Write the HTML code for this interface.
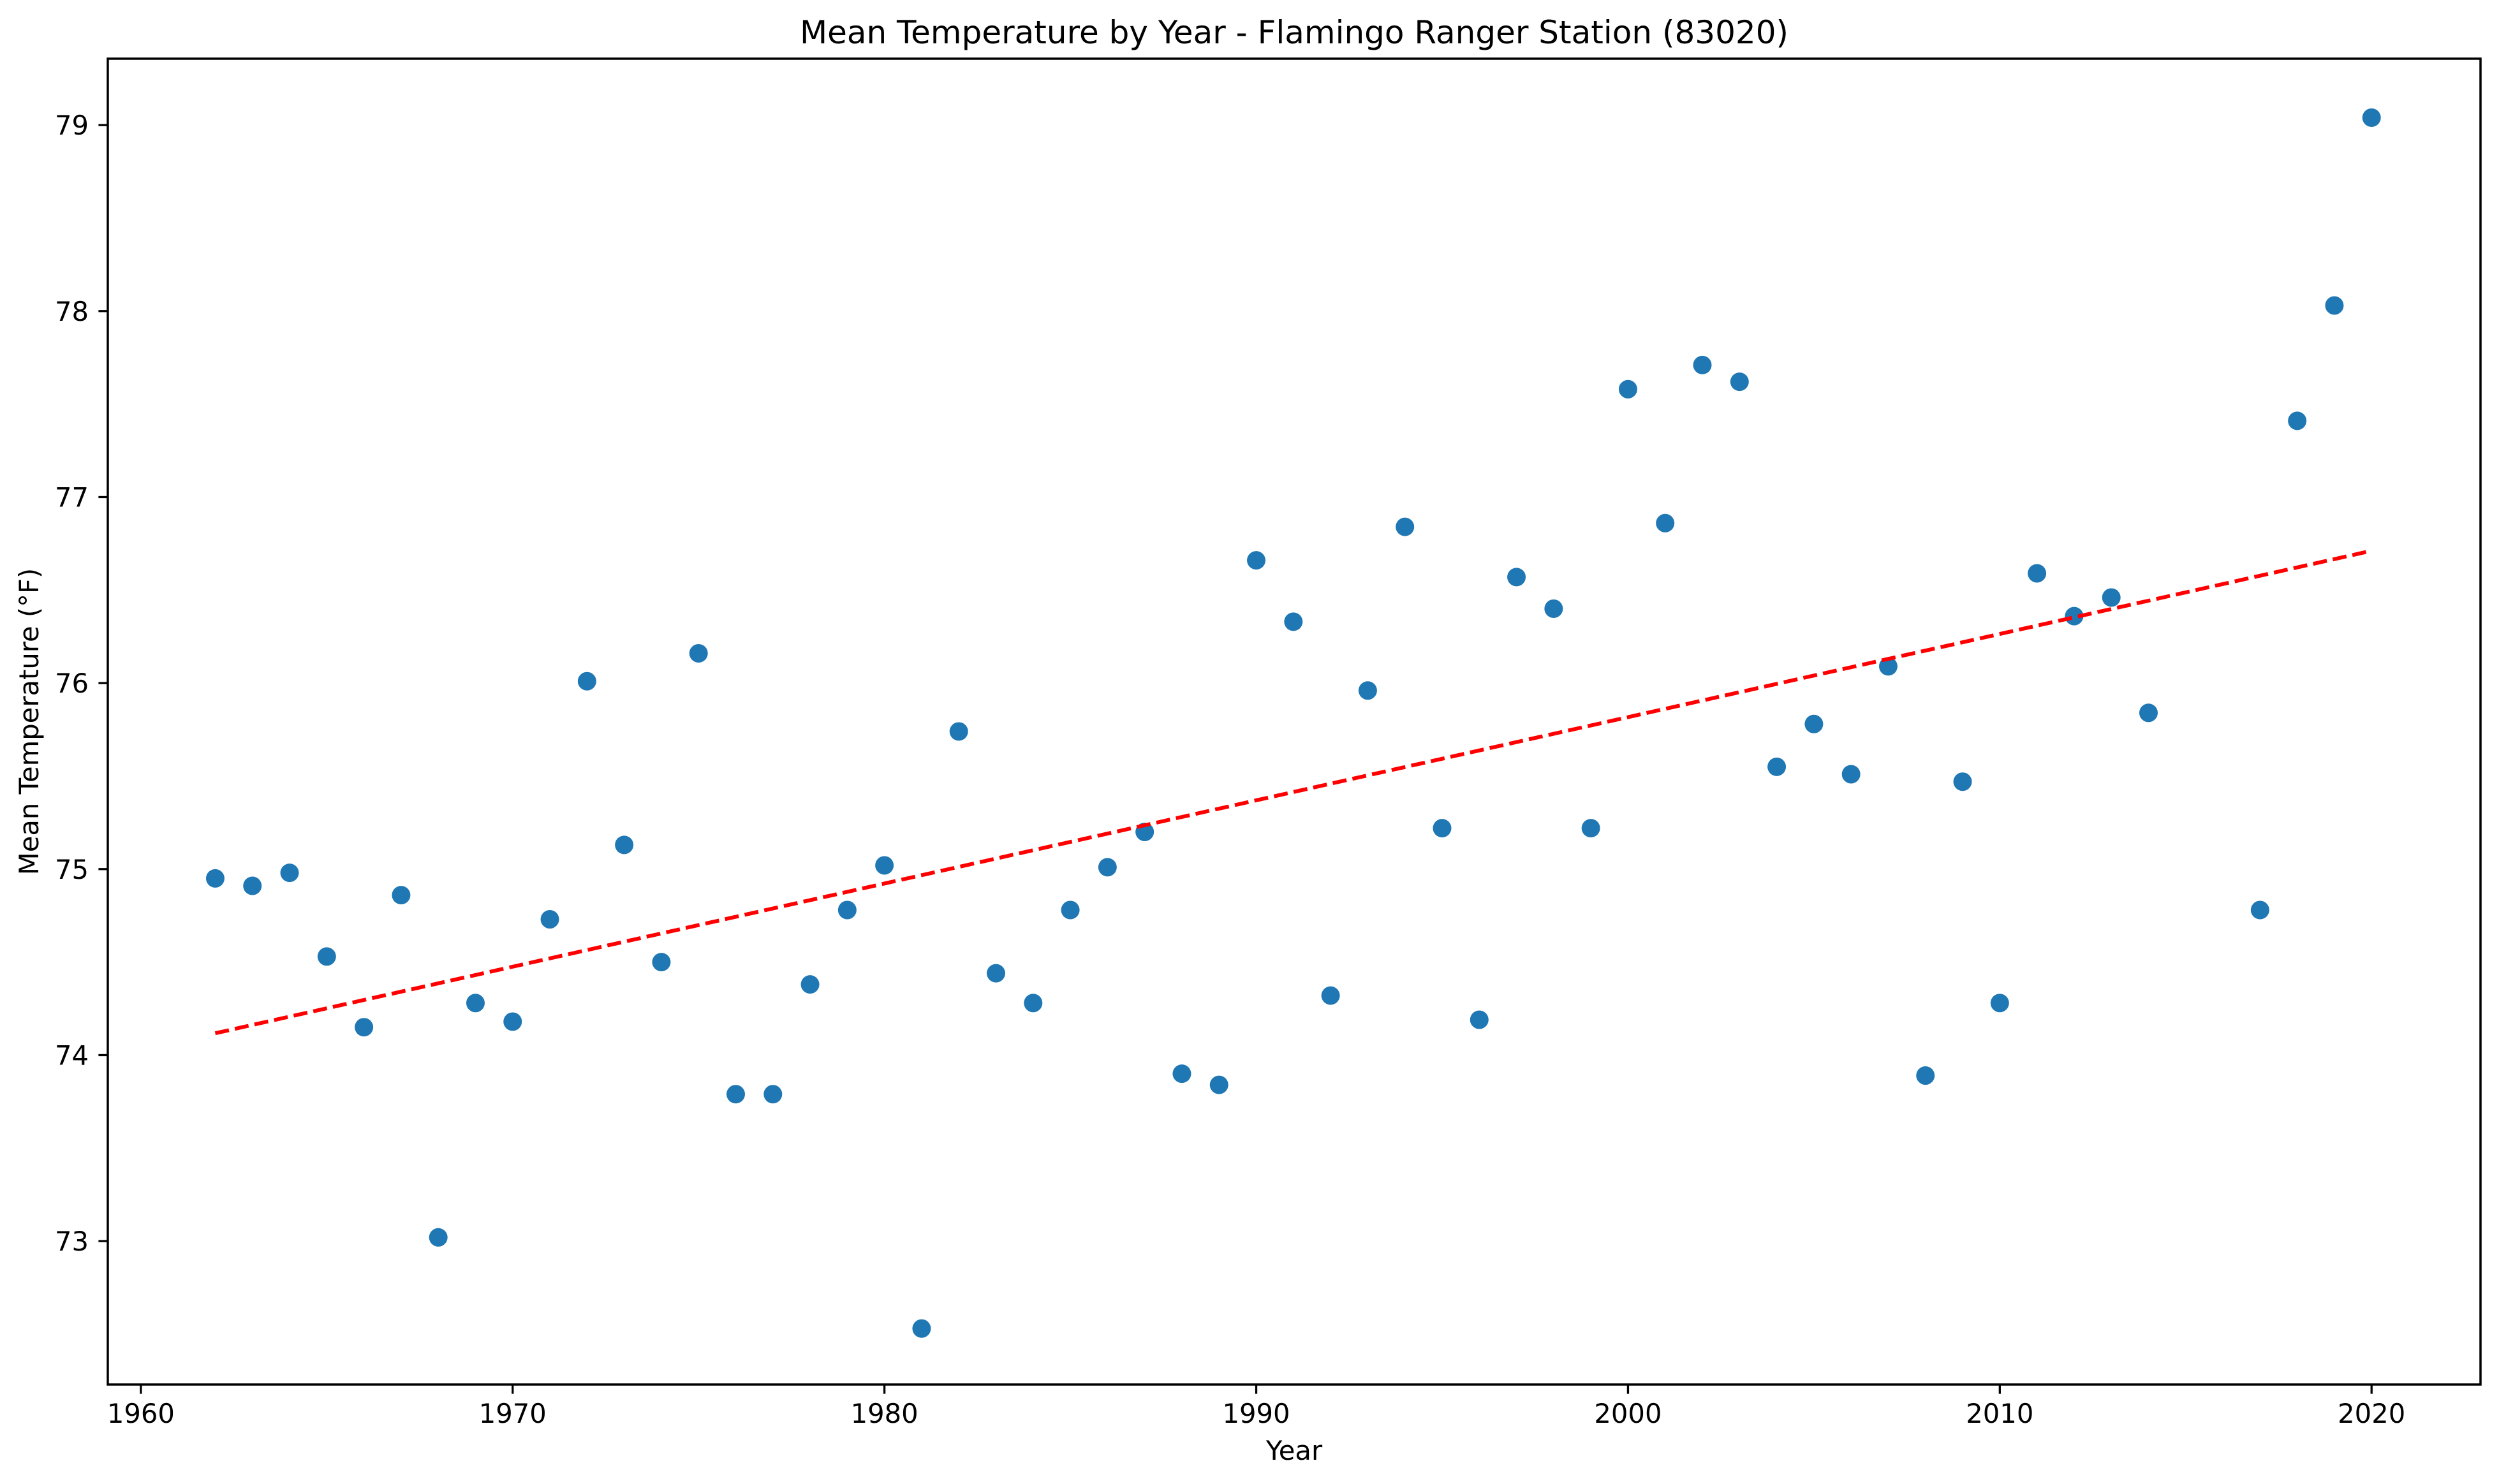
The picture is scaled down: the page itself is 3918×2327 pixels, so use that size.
<!DOCTYPE html>
<html><head><meta charset="utf-8"><style>
html,body{margin:0;padding:0;background:#fff;}
svg{display:block;font-family:"DejaVu Sans","Liberation Sans",sans-serif;}
</style></head><body>
<svg id="chart" width="3918" height="2327" xmlns="http://www.w3.org/2000/svg">
<rect width="3918" height="2327" fill="#fff"/>
<g id="plot"></g>
</svg>
<script>
const years = [1962,1963,1964,1965,1966,1967,1968,1969,1970,1971,1972,1973,1974,1975,1976,1977,1978,1979,1980,1981,1982,1983,1984,1985,1986,1987,1988,1989,1990,1991,1992,1993,1994,1995,1996,1997,1998,1999,2000,2001,2002,2003,2004,2005,2006,2007,2008,2009,2010,2011,2012,2013,2014,2017,2018,2019,2020];
const temps = [74.95,74.91,74.98,74.53,74.15,74.86,73.02,74.28,74.18,74.73,76.01,75.13,74.50,76.16,73.79,73.79,74.38,74.78,75.02,72.53,75.74,74.44,74.28,74.78,75.01,75.20,73.90,73.84,76.66,76.33,74.32,75.96,76.84,75.22,74.19,76.57,76.40,75.22,77.58,76.86,77.71,77.62,75.55,75.78,75.51,76.09,73.89,75.47,74.28,76.59,76.36,76.46,75.84,74.78,77.41,78.03,79.04];
const xTicks = [1960,1970,1980,1990,2000,2010,2020];
const yTicks = [73,74,75,76,77,78,79];

const L=169,R=3889,T=92,B=2171;
const xMin=1959.11,xMax=2022.93,yMin=72.229,yMax=79.357;
const sx=v=>L+(v-xMin)/(xMax-xMin)*(R-L);
const sy=v=>B-(v-yMin)/(yMax-yMin)*(B-T);
const NS="http://www.w3.org/2000/svg";
const g=document.getElementById('plot');
function mk(tag,attrs,parent){const e=document.createElementNS(NS,tag);for(const k in attrs)e.setAttribute(k,attrs[k]);(parent||g).appendChild(e);return e;}

const pts=mk('g',{});


years.forEach((y,i)=>{
  const c=mk('circle',{cx:sx(y),cy:sy(temps[i]),r:14.5,fill:'#1f77b4'},pts);
  
  
});

const n=years.length;
const mx=years.reduce((a,b)=>a+b,0)/n, my=temps.reduce((a,b)=>a+b,0)/n;
let num=0,den=0;years.forEach((y,i)=>{num+=(y-mx)*(temps[i]-my);den+=(y-mx)*(y-mx);});
const slope=num/den, icpt=my-slope*mx;
const x0=years[0],x1=years[n-1];
const tl=mk('line',{x1:sx(x0),y1:sy(icpt+slope*x0),x2:sx(x1),y2:sy(icpt+slope*x1),stroke:'#ff0000','stroke-width':6,'stroke-dasharray':'22 9.5'});



const fr=mk('rect',{x:L,y:T,width:R-L,height:B-T,fill:'none',stroke:'#000','stroke-width':3.5});



xTicks.forEach(t=>{
  const x=sx(t);
  const tk=mk('line',{x1:x,y1:B,x2:x,y2:B+14.6,stroke:'#000','stroke-width':3.3});
  
  
  const tx=mk('text',{x:x,y:B+60,'font-size':41.7,'text-anchor':'middle',fill:'#000'});
  tx.textContent=t;
  
  
});
yTicks.forEach(t=>{
  const y=sy(t);
  const tk=mk('line',{x1:L-14.6,y1:y,x2:L,y2:y,stroke:'#000','stroke-width':3.3});
  
  
  const tx=mk('text',{x:L-30,y:y+15,'font-size':41.7,'text-anchor':'end',fill:'#000'});
  tx.textContent=t;
  
  
});

const title=mk('text',{x:(L+R)/2,y:68,'font-size':50,'text-anchor':'middle',fill:'#000'});
title.textContent='Mean Temperature by Year - Flamingo Ranger Station (83020)';



const xl=mk('text',{x:(L+R)/2,y:2289,'font-size':41.7,'text-anchor':'middle',fill:'#000'});
xl.textContent='Year';



const yl=mk('text',{x:0,y:0,'font-size':41.7,'text-anchor':'middle',fill:'#000',transform:'translate(60,'+((T+B)/2)+') rotate(-90)'});
yl.textContent='Mean Temperature (°F)';


</script>
</body></html>
